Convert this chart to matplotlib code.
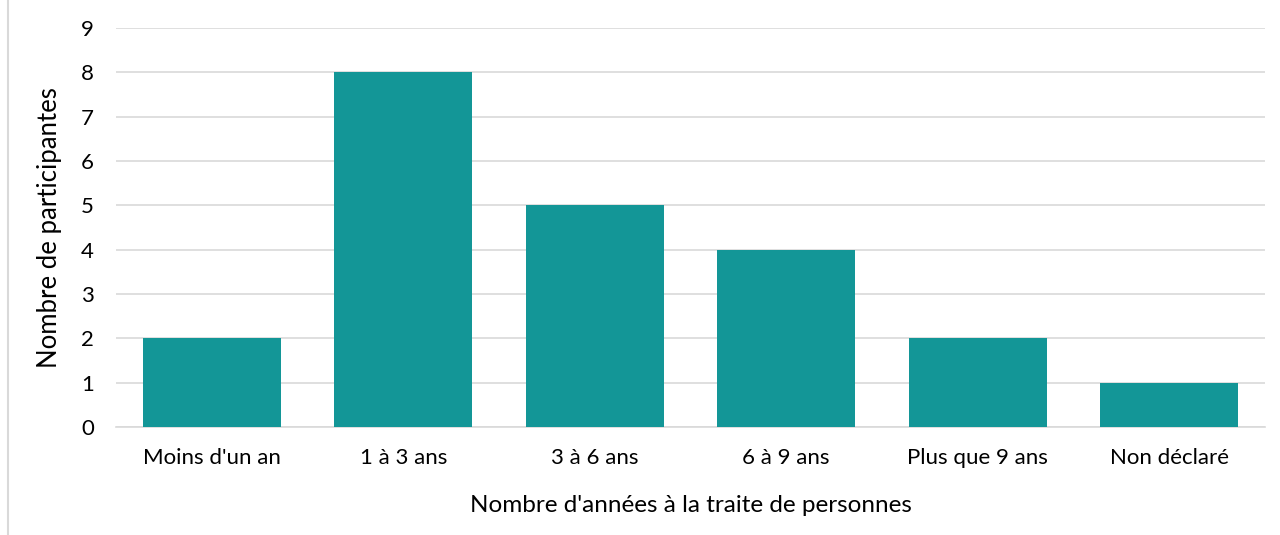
import matplotlib
matplotlib.use("Agg")
import matplotlib.pyplot as plt
from matplotlib.lines import Line2D

categories = ["Moins d'un an", "1 à 3 ans", "3 à 6 ans", "6 à 9 ans", "Plus que 9 ans", "Non déclaré"]
values = [2, 8, 5, 4, 2, 1]

plt.rcParams['font.family'] = ['Lato', 'DejaVu Sans']

fig = plt.figure(figsize=(12.8, 5.35), dpi=100)
ax = fig.add_axes([116/1280, 1-427/535, (1265-116)/1280, (427-28)/535])

x = list(range(len(categories)))
ax.bar(x, values, width=0.72, color="#139697", zorder=3)
ax.set_xlim(-0.5, len(categories)-0.5)
ax.set_ylim(0, 9)
ax.set_yticks(range(0, 10))
ax.set_xticks(x)
ax.set_xticklabels(categories, fontsize=16)
ax.tick_params(axis='y', labelsize=16, length=0, pad=16)
ax.tick_params(axis='x', length=0, pad=15)
ax.grid(axis='y', color="#d9d9d9", linewidth=1.2, zorder=0)
for s in ['top', 'right', 'left']:
    ax.spines[s].set_visible(False)
ax.spines['bottom'].set_color("#d9d9d9")
ax.spines['bottom'].set_linewidth(1.2)
ax.set_xlabel("Nombre d'années à la traite de personnes", fontsize=17.5, va='center')
ax.set_ylabel("Nombre de participantes", fontsize=18.5, va='center')
ax.xaxis.set_label_coords(0.5, (427-506)/399)
ax.yaxis.set_label_coords((50-116)/1149, 0.5)

fig.add_artist(Line2D([8/1280, 8/1280], [0, 1], transform=fig.transFigure, color="#d9d9d9", linewidth=1.5))

fig.savefig("out.png", dpi=100)
